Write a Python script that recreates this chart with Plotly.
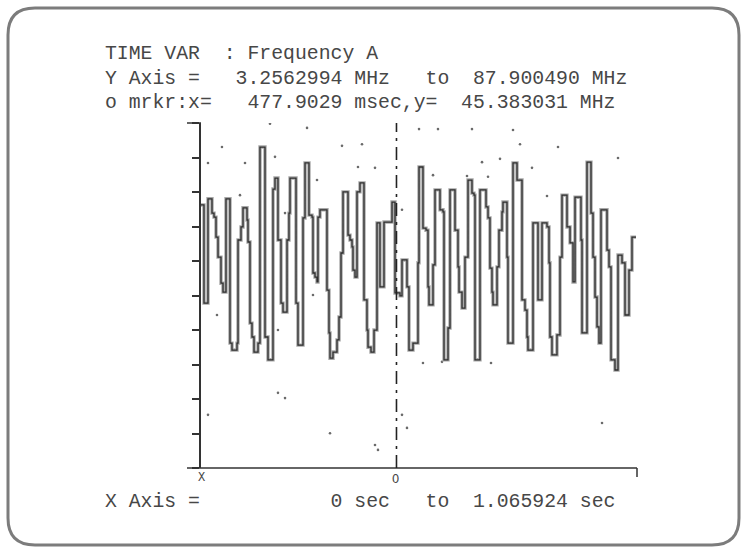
import numpy as np
import plotly.graph_objects as go

# ---------------- data ----------------
title_line = "TIME VAR  : Frequency A"
y_axis_line = "Y Axis =   3.2562994 MHz   to  87.900490 MHz"
marker_line = "o mrkr:x=   477.9029 msec,y=  45.383031 MHz"
x_axis_line = "X Axis =           0 sec   to  1.065924 sec"

y_min_mhz = 3.2562994
y_max_mhz = 87.900490
x_min_ms = 0.0
x_max_ms = 1065.924
marker_x_ms = 477.9029

# step trace: start time of each step (msec) and frequency level (MHz)
step_time_ms = [
    0.0, 7.3, 17.1, 26.9, 31.8, 36.7, 41.6, 48.9, 53.8, 61.1,
    70.9, 75.8, 88.0, 90.5, 97.8, 102.7, 112.5, 114.9, 119.8, 124.7,
    129.6, 139.4, 144.2, 156.5, 163.8, 176.0, 180.9, 188.2, 195.6, 200.5,
    210.3, 215.1, 217.6, 232.3, 237.1, 249.4, 254.3, 264.0, 271.4, 273.8,
    278.7, 283.6, 286.0, 290.9, 308.0, 312.9, 315.4, 322.7, 332.5, 337.4,
    342.3, 347.2, 359.4, 364.3, 369.2, 371.6, 376.5, 381.4, 388.7, 398.5,
    405.8, 408.3, 415.6, 423.0, 430.3, 437.6, 447.4, 467.0, 474.3, 486.5,
    491.4, 503.6, 508.5, 518.3, 530.5, 533.0, 542.7, 550.1, 555.0, 557.4,
    567.2, 572.1, 584.3, 591.6, 594.1, 603.9, 608.8, 621.0, 628.3, 630.8,
    638.1, 645.4, 652.8, 662.5, 667.4, 669.9, 682.1, 696.8, 701.7, 706.5,
    711.4, 713.9, 723.7, 728.5, 735.9, 738.3, 748.1, 750.5, 762.8, 772.6,
    784.8, 792.1, 797.0, 799.4, 811.7, 823.9, 833.7, 845.9, 850.8, 853.2,
    858.1, 870.3, 877.7, 882.6, 894.8, 902.2, 909.5, 914.4, 929.0, 931.5,
    943.7, 953.5, 958.4, 963.3, 968.2, 973.0, 977.9, 992.6, 997.5, 1002.4,
    1012.1, 1019.5, 1029.3, 1036.6, 1046.4, 1053.7, 1063.5,
]
step_freq_mhz = [
    67.8, 43.7, 69.3, 65.8, 64.8, 59.9, 55.0, 48.6, 46.4, 69.3,
    33.9, 32.2, 33.9, 59.2, 62.4, 67.1, 64.1, 58.7, 38.8, 35.4,
    31.7, 33.9, 82.0, 35.4, 29.8, 71.7, 74.4, 59.2, 43.7, 41.5,
    59.2, 65.8, 74.4, 43.7, 33.4, 64.6, 78.1, 65.3, 64.8, 51.1,
    50.1, 48.9, 64.8, 66.6, 46.9, 36.4, 30.2, 31.7, 34.7, 40.3,
    56.0, 71.0, 60.4, 59.2, 57.5, 51.8, 50.1, 71.0, 73.2, 44.5,
    37.1, 32.9, 31.7, 37.1, 63.4, 47.7, 63.6, 68.5, 46.2, 45.5,
    54.3, 47.7, 32.2, 33.9, 53.6, 77.1, 62.1, 61.6, 47.7, 43.3,
    53.1, 71.5, 66.6, 66.1, 29.8, 37.6, 71.5, 61.6, 52.6, 46.4,
    42.5, 55.0, 73.9, 70.7, 70.2, 29.8, 71.5, 67.3, 64.6, 52.3,
    46.4, 43.3, 52.6, 61.6, 66.1, 68.5, 55.0, 33.9, 78.1, 73.9,
    44.5, 42.0, 35.4, 32.2, 63.4, 44.5, 63.4, 62.4, 53.6, 35.4,
    31.0, 35.9, 55.0, 70.2, 62.4, 58.5, 48.9, 69.7, 59.2, 36.4,
    78.3, 65.8, 55.0, 45.2, 37.9, 33.9, 66.6, 56.7, 52.6, 29.8,
    27.3, 55.5, 53.6, 40.8, 51.8, 59.9, 59.9,
]

# stray display dots (msec, MHz)
dot_time_ms = [
    51.3, 17.1, 107.6, 95.3, 180.9, 39.1, 188.2, 205.4, 168.7, 259.2,
    344.7, 393.6, 383.8, 425.4, 283.6, 491.4, 273.8, 533.0, 579.4, 662.5,
    762.8, 779.9, 872.8, 1019.5, 687.0, 731.0, 809.2, 567.2, 650.3, 701.7,
    845.9, 188.2, 205.4, 17.1, 315.4, 425.4, 432.7, 491.4, 503.6, 980.4,
    542.7, 709.0, 589.2,
]
dot_freq_mhz = [
    82.0, 78.1, 78.1, 70.2, 79.6, 40.8, 37.1, 65.8, 87.7, 86.7,
    82.3, 82.7, 77.1, 76.9, 73.9, 66.6, 45.7, 86.4, 86.4, 86.4,
    86.2, 82.7, 82.0, 79.3, 78.3, 79.1, 76.9, 75.1, 74.9, 74.7,
    70.0, 21.7, 20.4, 16.3, 11.8, 8.9, 7.7, 16.3, 13.1, 14.3,
    29.0, 29.0, 29.3,
]

# ---------------- layout geometry ----------------
W, H = 743, 548
L, R, T, B = 201, 106, 123, 80
PW, PH = W - L - R, H - T - B


def px(xp):
    return (xp - L) / PW


def py(yp):
    return (H - B - yp) / PH


ink = "#333333"
txt = "#474747"
mono = "Liberation Mono, DejaVu Sans Mono, monospace"

fig = go.Figure()

fig.add_trace(go.Scatter(
    x=dot_time_ms, y=dot_freq_mhz, mode="markers",
    marker=dict(size=2.6, color="#6a6a6a"), hoverinfo="skip", showlegend=False,
))
fig.add_trace(go.Scatter(
    x=step_time_ms, y=step_freq_mhz, mode="lines", line_shape="hv",
    line=dict(color="#a8a8a8", width=3.4), hoverinfo="skip", showlegend=False,
))
fig.add_trace(go.Scatter(
    x=step_time_ms, y=step_freq_mhz, mode="lines", line_shape="hv",
    line=dict(color="#2e2e2e", width=1.3), showlegend=False,
))

yticks = list(np.linspace(y_min_mhz, y_max_mhz, 11))

fig.update_layout(
    width=W, height=H, autosize=False,
    margin=dict(l=L, r=R, t=T, b=B, pad=0),
    paper_bgcolor="white", plot_bgcolor="white",
    showlegend=False,
    xaxis=dict(range=[x_min_ms, x_max_ms], showgrid=False, zeroline=False,
               showline=False, ticks="", showticklabels=False, fixedrange=True),
    yaxis=dict(range=[y_min_mhz, y_max_mhz], showgrid=False, zeroline=False,
               showline=True, linecolor=ink, linewidth=1.5,
               tickmode="array", tickvals=yticks, ticks="outside", ticklen=7,
               tickwidth=1.5, tickcolor=ink, showticklabels=False, fixedrange=True),
)

# x axis line (extends a bit left of the y axis)
fig.add_shape(type="line", xref="paper", yref="paper",
              x0=px(187), x1=1.0, y0=0, y1=0, line=dict(color=ink, width=1.5))
# right end tick
fig.add_shape(type="line", xref="paper", yref="paper",
              x0=1.0, x1=1.0, y0=0, y1=py(477), line=dict(color=ink, width=1.5))
# top cap of y axis
fig.add_shape(type="line", xref="paper", yref="paper",
              x0=px(187), x1=0, y0=1, y1=1, line=dict(color=ink, width=1.5))
# marker dashed line
fig.add_shape(type="line", xref="x", yref="paper",
              x0=marker_x_ms, x1=marker_x_ms, y0=0, y1=1,
              line=dict(color="#222222", width=1.6, dash="13px,6px,3px,6px"))

# rounded border
x0b, x1b, y0b, y1b, r = 8, 739, 8, 545, 27
pts = [
    ("M", [(x0b + r, y0b)]), ("L", [(x1b - r, y0b)]), ("Q", [(x1b, y0b), (x1b, y0b + r)]),
    ("L", [(x1b, y1b - r)]), ("Q", [(x1b, y1b), (x1b - r, y1b)]),
    ("L", [(x0b + r, y1b)]), ("Q", [(x0b, y1b), (x0b, y1b - r)]),
    ("L", [(x0b, y0b + r)]), ("Q", [(x0b, y0b), (x0b + r, y0b)]),
]
path = " ".join(c + " " + " ".join(f"{px(a):.5f},{py(b):.5f}" for a, b in p) for c, p in pts) + " Z"
fig.add_shape(type="path", xref="paper", yref="paper", path=path,
              line=dict(color="#7c7c7c", width=3))


def label(text, xp, yp, size=19.8, anchor="left"):
    fig.add_annotation(text=text.replace(" ", "\u00a0"), xref="paper", yref="paper",
                       x=px(xp), y=py(yp), xanchor=anchor, yanchor="middle",
                       showarrow=False, font=dict(family=mono, size=size, color=txt))


label(title_line, 103, 54)
label(y_axis_line, 103, 79)
label(marker_line, 103, 103)
label(x_axis_line, 103, 502)
label("X", 201, 478, size=12, anchor="center")
label("O", 395, 480, size=12, anchor="center")

fig.write_html("out.html")
